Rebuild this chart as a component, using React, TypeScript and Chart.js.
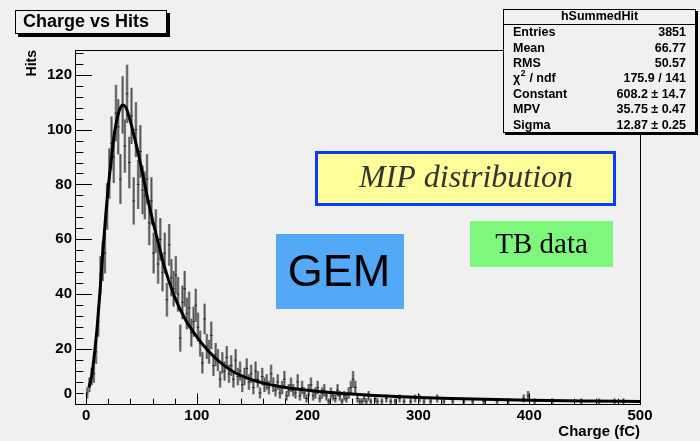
import React, { useEffect, useRef } from "react";
import { Chart, registerables } from "chart.js";

Chart.register(...registerables);

// ---- data ----
const histCharge = [
  1, 3, 5, 7, 9, 11, 13, 15, 17, 19,
  21, 23, 25, 27, 29, 31, 33, 35, 37, 39,
  41, 43, 45, 47, 49, 51, 53, 55, 57, 59,
  61, 63, 65, 67, 69, 71, 73, 75, 77, 79,
  81, 83, 85, 87, 89, 91, 93, 95, 97, 99,
  101, 103, 105, 107, 109, 111, 113, 115, 117, 119,
  121, 123, 125, 127, 129, 131, 133, 135, 137, 139,
  141, 143, 145, 147, 149, 151, 153, 155, 157, 159,
  161, 163, 165, 167, 169, 171, 173, 175, 177, 179,
  181, 183, 185, 187, 189, 191, 193, 195, 197, 199,
  201, 203, 205, 207, 209, 211, 213, 215, 217, 219,
  221, 223, 225, 227, 229, 231, 233, 235, 237, 239,
  241, 243, 245, 247, 249,
  251, 253, 255, 257, 261, 263, 267, 271, 275, 279,
  283, 287, 293, 297, 301, 305, 311, 317, 323, 331,
  341, 349, 359, 371, 381, 395, 399, 405, 421, 447,
  463, 477, 485,
];
const histHits = [
  4, 7, 10, 11, 19, 30, 47, 52, 55, 72,
  84, 95, 90, 106, 101, 82, 109, 94, 113, 88,
  105, 74, 100, 80, 92, 78, 76, 82, 66, 74,
  55, 63, 51, 60, 48, 55, 38, 58, 46, 42,
  47, 40, 24, 37, 42, 33, 35, 26, 30, 36,
  28, 22, 15, 31, 21, 19, 25, 14, 18, 16,
  9, 15, 12, 17, 11, 14, 9, 16, 10, 12,
  7, 10, 13, 8, 11, 6, 12, 9, 4, 10,
  7, 8, 6, 11, 7, 5, 8, 4, 6, 9,
  3, 5, 7, 5, 4, 8, 3, 6, 4, 2,
  5, 7, 3, 4, 6, 2, 4, 5, 3, 1,
  4, 3, 2, 5, 3, 1, 3, 2, 4, 6,
  9, 6, 2, 1, 1,
  2, 1, 3, 1, 2, 1, 1, 2, 1, 1,
  2, 1, 1, 2, 2, 1, 1, 2, 1, 1,
  1, 1, 1, 1, 1, 2, 3, 1, 1, 1,
  1, 1, 1,
];

// Landau fit curve
const fitCharge = [2.5, 5, 8, 10, 12, 15, 18, 20, 23, 25, 28, 30, 33, 36, 40, 45, 50, 55, 60, 65, 70, 80, 90, 100, 110, 120, 130, 140, 150, 160, 180, 200, 220, 240, 260, 280, 300, 330, 360, 400, 450, 500];
const fitHits = [6, 10, 20, 28, 38, 55, 70, 79, 90, 97, 104, 107, 109, 108, 103, 95, 86, 76, 67, 59, 51, 39, 30.5, 24.5, 19.5, 15.5, 12.5, 10.3, 8.8, 7.6, 6, 5, 4.2, 3.6, 3.1, 2.7, 2.4, 2, 1.7, 1.4, 1.1, 0.9];

const xTickValues = [0, 100, 200, 300, 400, 500];
const yTickValues = [0, 20, 40, 60, 80, 100, 120];

const plotTitle = "Charge vs Hits";
const xTitle = "Charge (fC)";
const yTitle = "Hits";
const statsTitle = "hSummedHit";
const statsLabels = ["Entries", "Mean", "RMS", "χ2 / ndf", "Constant", "MPV", "Sigma"];
const statsValues = ["3851", "66.77", "50.57", "175.9 / 141", "608.2 ± 14.7", "35.75 ± 0.47", "12.87 ± 0.25"];
const noteMip = "MIP distribution";
const noteTb = "TB data";
const noteGem = "GEM";

const BG = "#f0f0f0";
const SANS = "'Liberation Sans', Arial, Helvetica, sans-serif";
const SERIF = "'Liberation Serif', 'Times New Roman', serif";

function drawBox(ctx: CanvasRenderingContext2D, x: number, y: number, w: number, h: number, shadow: number) {
  ctx.fillStyle = "#000";
  ctx.fillRect(x + shadow, y + shadow, w, h);
  ctx.fillStyle = BG;
  ctx.fillRect(x, y, w, h);
  ctx.strokeStyle = "#000";
  ctx.lineWidth = 1;
  ctx.strokeRect(x + 0.5, y + 0.5, w - 1, h - 1);
}

const rootStyle = {
  id: "rootStyle",
  beforeDraw(chart: any) {
    const ctx = chart.ctx as CanvasRenderingContext2D;
    ctx.save();
    ctx.fillStyle = BG;
    ctx.fillRect(0, 0, chart.width, chart.height);
    ctx.restore();
  },
  beforeDatasetsDraw(chart: any) {
    const ctx = chart.ctx as CanvasRenderingContext2D;
    const xs = chart.scales.x;
    const ys = chart.scales.y;
    const area = chart.chartArea;
    const pts = chart.data.datasets[0].data as { x: number; y: number }[];
    ctx.save();
    ctx.beginPath();
    ctx.rect(area.left, area.top, area.right - area.left, area.bottom - area.top);
    ctx.clip();
    for (const p of pts) {
      if (p.y <= 0) continue;
      const err = Math.sqrt(p.y);
      const px = xs.getPixelForValue(p.x);
      const py = ys.getPixelForValue(p.y);
      const t = ys.getPixelForValue(p.y + err);
      const b = ys.getPixelForValue(Math.max(0, p.y - err));
      ctx.strokeStyle = "rgba(125,125,125,0.9)";
      ctx.lineWidth = 2.6;
      ctx.beginPath();
      ctx.moveTo(px, t);
      ctx.lineTo(px, b);
      ctx.stroke();
      ctx.strokeStyle = "rgba(60,60,60,0.9)";
      ctx.lineWidth = 0.8;
      ctx.beginPath();
      ctx.moveTo(px, t);
      ctx.lineTo(px, b);
      ctx.stroke();
      ctx.strokeStyle = "#222";
      ctx.lineWidth = 1;
      ctx.beginPath();
      ctx.moveTo(xs.getPixelForValue(p.x - 1.2), py);
      ctx.lineTo(xs.getPixelForValue(p.x + 1.2), py);
      ctx.stroke();
    }
    ctx.restore();
  },
  afterDraw(chart: any) {
    const ctx = chart.ctx as CanvasRenderingContext2D;
    const xs = chart.scales.x;
    const ys = chart.scales.y;
    const { left, right, top, bottom } = chart.chartArea;
    ctx.save();
    // frame
    ctx.strokeStyle = "#000";
    ctx.lineWidth = 1;
    ctx.strokeRect(Math.round(left) + 0.5, Math.round(top) + 0.5, Math.round(right - left), Math.round(bottom - top));
    // ticks drawn inside the frame, ROOT style
    const w = right - left;
    const h = bottom - top;
    ctx.beginPath();
    for (let v = 0; v <= ys.max; v += 4) {
      const py = Math.round(ys.getPixelForValue(v)) + 0.5;
      const len = v % 20 === 0 ? w * 0.03 : w * 0.015;
      ctx.moveTo(left, py);
      ctx.lineTo(left + len, py);
    }
    for (let v = 0; v <= xs.max; v += 20) {
      const px = Math.round(xs.getPixelForValue(v)) + 0.5;
      const len = v % 100 === 0 ? h * 0.03 : h * 0.015;
      ctx.moveTo(px, bottom);
      ctx.lineTo(px, bottom - len);
    }
    ctx.stroke();
    // lowest y label lifted like ROOT does
    ctx.fillStyle = "#000";
    ctx.font = `bold 15px ${SANS}`;
    ctx.textAlign = "right";
    ctx.textBaseline = "middle";
    ctx.fillText("0", left - 3, ys.getPixelForValue(0) - 10);

    // title box
    drawBox(ctx, 15, 10, 152, 24, 3);
    ctx.fillStyle = "#000";
    ctx.font = `bold 18px ${SANS}`;
    ctx.textAlign = "left";
    ctx.textBaseline = "middle";
    ctx.fillText(plotTitle, 23, 22.5);

    // stats box
    const sx = 503, sy = 9, sw = 193, sh = 124;
    drawBox(ctx, sx, sy, sw, sh, 2);
    ctx.fillStyle = "#000";
    ctx.font = `bold 12.5px ${SANS}`;
    ctx.textAlign = "center";
    ctx.fillText(statsTitle, sx + sw / 2, 17);
    ctx.beginPath();
    ctx.moveTo(sx, 24.5);
    ctx.lineTo(sx + sw, 24.5);
    ctx.stroke();
    const rowH = (sy + sh - 25) / statsLabels.length;
    statsLabels.forEach((lab, i) => {
      const cy = 25 + rowH * (i + 0.5);
      ctx.textAlign = "left";
      if (lab.startsWith("χ2")) {
        ctx.font = `bold 12.5px ${SANS}`;
        ctx.fillText("χ", 513, cy);
        const cw = ctx.measureText("χ").width;
        ctx.font = `bold 8.5px ${SANS}`;
        ctx.fillText("2", 513 + cw + 0.5, cy - 5);
        const sw2 = ctx.measureText("2").width;
        ctx.font = `bold 12.5px ${SANS}`;
        ctx.fillText(lab.slice(2), 513 + cw + sw2 + 1, cy);
      } else {
        ctx.font = `bold 12.5px ${SANS}`;
        ctx.fillText(lab, 513, cy);
      }
      ctx.textAlign = "right";
      ctx.fillText(statsValues[i], 686, cy);
    });

    // MIP distribution note
    ctx.fillStyle = "#ffff99";
    ctx.fillRect(315, 151, 301, 55);
    ctx.strokeStyle = "#0a3cff";
    ctx.lineWidth = 3;
    ctx.strokeRect(316.5, 152.5, 298, 52);
    ctx.fillStyle = "#333";
    ctx.font = `italic 32px ${SERIF}`;
    ctx.textAlign = "center";
    ctx.textBaseline = "middle";
    ctx.fillText(noteMip, 466, 179);

    // TB data note
    ctx.fillStyle = "#7df87d";
    ctx.fillRect(470, 221, 143, 46);
    ctx.fillStyle = "#000";
    ctx.font = `29px ${SERIF}`;
    ctx.fillText(noteTb, 541.5, 245);

    // GEM note
    ctx.fillStyle = "#53a8f8";
    ctx.fillRect(276, 234, 128, 75);
    ctx.fillStyle = "#000";
    ctx.font = `45px ${SANS}`;
    ctx.fillText(noteGem, 339, 274);
    ctx.restore();
  },
};

export default function App() {
  const canvasRef = useRef<HTMLCanvasElement | null>(null);

  useEffect(() => {
    const canvas = canvasRef.current;
    if (!canvas) return;
    const histPoints = histCharge.map((c, i) => ({ x: c, y: histHits[i] }));
    const fitPoints = fitCharge.map((c, i) => ({ x: c, y: fitHits[i] }));
    const chart = new Chart(canvas, {
      type: "scatter",
      data: {
        datasets: [
          {
            label: "hSummedHit",
            data: histPoints,
            pointRadius: 0,
            showLine: false,
          },
          {
            type: "line",
            label: "landau fit",
            data: fitPoints,
            borderColor: "#000",
            borderWidth: 3,
            pointRadius: 0,
            fill: false,
            cubicInterpolationMode: "monotone",
          } as any,
        ],
      },
      options: {
        responsive: false,
        animation: false,
        events: [],
        layout: { padding: { top: 50, right: 60, left: 0, bottom: 0 } },
        plugins: { legend: { display: false }, tooltip: { enabled: false }, title: { display: false } },
        scales: {
          x: {
            type: "linear",
            min: -10,
            max: 500,
            grid: { display: false, drawTicks: false },
            border: { display: false },
            afterBuildTicks: (s: any) => {
              s.ticks = xTickValues.map((v) => ({ value: v }));
            },
            afterFit: (s: any) => {
              s.height = 37;
            },
            ticks: {
              padding: 3,
              color: "#000",
              font: { family: SANS, size: 15, weight: "bold" },
              maxRotation: 0,
              autoSkip: false,
            },
            title: {
              display: true,
              text: xTitle,
              align: "end",
              color: "#000",
              font: { family: SANS, size: 15, weight: "bold" },
              padding: { top: 0, bottom: 0 },
            },
          },
          y: {
            type: "linear",
            min: 0,
            max: 129,
            grid: { display: false, drawTicks: false },
            border: { display: false },
            afterBuildTicks: (s: any) => {
              s.ticks = yTickValues.map((v) => ({ value: v }));
            },
            afterFit: (s: any) => {
              s.width = 75;
            },
            ticks: {
              padding: 3,
              color: "#000",
              font: { family: SANS, size: 15, weight: "bold" },
              autoSkip: false,
              callback: (v: any) => (Number(v) === 0 ? "" : String(v)),
            },
            title: {
              display: true,
              text: yTitle,
              align: "end",
              color: "#000",
              font: { family: SANS, size: 14, weight: "bold" },
              padding: { top: 24, bottom: 0 },
            },
          },
        },
      },
      plugins: [rootStyle],
    });
    return () => chart.destroy();
  }, []);

  return (
    <div style={{ position: "fixed", left: 0, top: 0, width: 700, height: 441, background: BG }}>
      <canvas ref={canvasRef} width={700} height={441} style={{ display: "block" }} />
    </div>
  );
}
